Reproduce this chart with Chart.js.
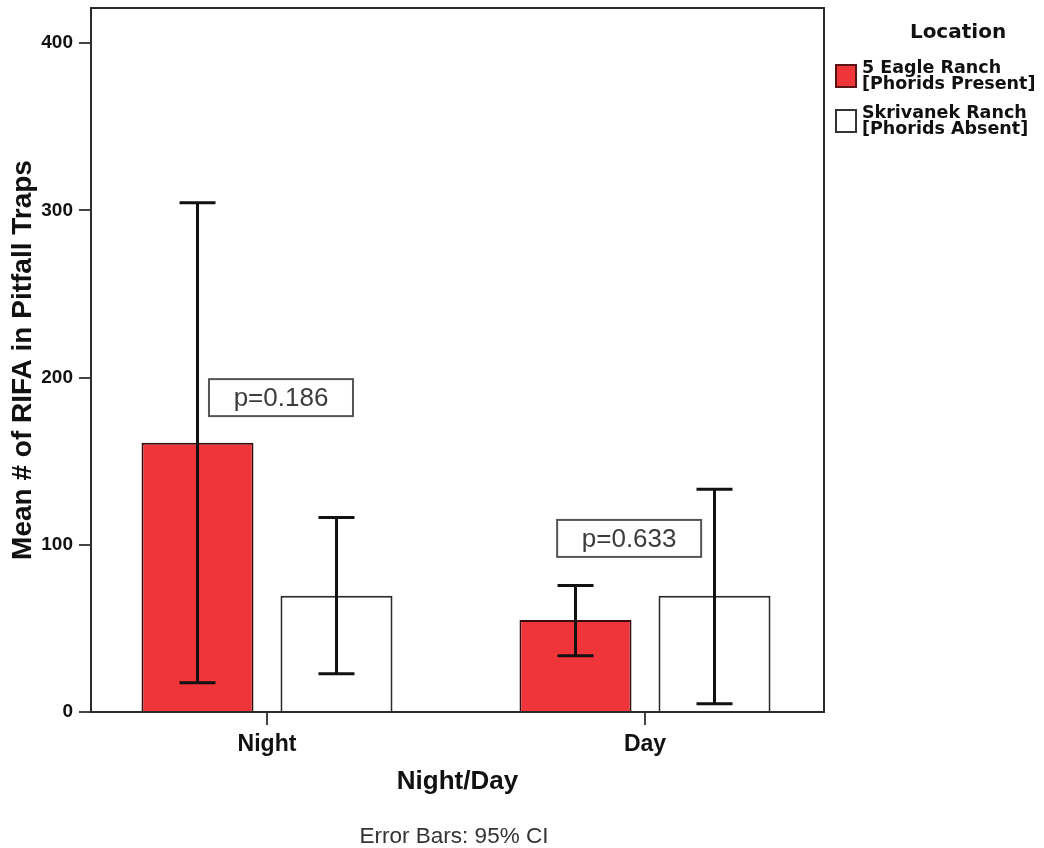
<!DOCTYPE html>
<html>
<head>
<meta charset="utf-8">
<script src="https://cdn.jsdelivr.net/npm/chart.js@4.4.0/dist/chart.umd.min.js"></script>
<style>
  html, body { margin: 0; padding: 0; background: #ffffff; }
  #wrap { width: 1044px; height: 848px; }
</style>
</head>
<body>
<div id="wrap"><canvas id="c" width="1044" height="848"></canvas></div>
<script>
// ---- data ----
const categories = ['Night', 'Day'];
const seriesNames = [['5 Eagle Ranch', '[Phorids Present]'], ['Skrivanek Ranch', '[Phorids Absent]']];
const eagleMean = [161, 55];
const eagleLow = [17.5, 33.7];
const eagleHigh = [304.5, 75.7];
const skrivMean = [69.5, 69.5];
const skrivLow = [22.8, 4.9];
const skrivHigh = [116.3, 133.2];
const yTicks = [0, 100, 200, 300, 400];
const pLabels = ['p=0.186', 'p=0.633'];
const pX = [0.037, 0.958];
const pY = [188, 103.8];

const lows = [eagleLow, skrivLow];
const highs = [eagleHigh, skrivHigh];

const frameColor = '#2b2b2b';

const errorBarPlugin = {
  id: 'errbars',
  afterDatasetsDraw(chart) {
    const ctx = chart.ctx, y = chart.scales.y;
    ctx.save();
    ctx.strokeStyle = '#111';
    ctx.lineWidth = 3;
    chart.data.datasets.forEach((ds, i) => {
      const meta = chart.getDatasetMeta(i);
      meta.data.forEach((bar, j) => {
        const x = bar.x;
        const yl = y.getPixelForValue(lows[i][j]);
        const yh = y.getPixelForValue(highs[i][j]);
        ctx.beginPath();
        ctx.moveTo(x, yl); ctx.lineTo(x, yh);
        ctx.moveTo(x - 18, yl); ctx.lineTo(x + 18, yl);
        ctx.moveTo(x - 18, yh); ctx.lineTo(x + 18, yh);
        ctx.stroke();
      });
    });
    // p-value boxes
    const xs = chart.scales.x;
    pLabels.forEach((t, k) => {
      const cx = xs.getPixelForValue(pX[k]);
      const cy = y.getPixelForValue(pY[k]);
      const w = 144, h = 37;
      ctx.fillStyle = '#fff';
      ctx.fillRect(cx - w / 2, cy - h / 2, w, h);
      ctx.strokeStyle = '#555';
      ctx.lineWidth = 2;
      ctx.strokeRect(cx - w / 2, cy - h / 2, w, h);
      ctx.fillStyle = '#3c3c3c';
      ctx.font = '26px "Liberation Sans", Arial, sans-serif';
      ctx.textAlign = 'center';
      ctx.textBaseline = 'middle';
      ctx.fillText(t, cx, cy + 1);
    });
    ctx.restore();
  }
};

const framePlugin = {
  id: 'frame',
  beforeDatasetsDraw(chart) {
    const a = chart.chartArea, ctx = chart.ctx;
    ctx.save();
    ctx.strokeStyle = frameColor;
    ctx.lineWidth = 2;
    ctx.strokeRect(a.left, a.top, a.right - a.left, a.bottom - a.top);
    ctx.restore();
  }
};

const legendPlugin = {
  id: 'customLegend',
  afterDraw(chart) {
    const ctx = chart.ctx;
    ctx.save();
    ctx.fillStyle = '#111';
    ctx.textAlign = 'center';
    ctx.textBaseline = 'alphabetic';
    ctx.font = 'bold 20px "DejaVu Sans", sans-serif';
    ctx.fillText('Location', 958, 38);
    const tops = [65, 110];
    chart.data.datasets.forEach((ds, i) => {
      const t = tops[i];
      ctx.fillStyle = ds.backgroundColor;
      ctx.fillRect(836, t, 20, 22);
      ctx.strokeStyle = i === 0 ? '#5a1414' : '#333';
      ctx.lineWidth = 2;
      ctx.strokeRect(836, t, 20, 22);
      ctx.fillStyle = '#111';
      ctx.textAlign = 'left';
      ctx.font = 'bold 17.5px "DejaVu Sans", sans-serif';
      ctx.fillText(seriesNames[i][0], 862, t + 8);
      ctx.fillText(seriesNames[i][1], 862, t + 24);
    });
    // footnote
    ctx.textAlign = 'center';
    ctx.fillStyle = '#333';
    ctx.font = '22.5px "Liberation Sans", Arial, sans-serif';
    ctx.fillText('Error Bars: 95% CI', 454, 843);
    ctx.restore();
  }
};

new Chart(document.getElementById('c'), {
  type: 'bar',
  data: {
    datasets: [
      {
        label: seriesNames[0].join(' '),
        data: eagleMean.map((v, i) => ({ x: i, y: v })),
        backgroundColor: '#EF343A',
        borderColor: '#3a0d0d',
        borderWidth: 2,
        categoryPercentage: 0.7354,
        barPercentage: 0.806
      },
      {
        label: seriesNames[1].join(' '),
        data: skrivMean.map((v, i) => ({ x: i, y: v })),
        backgroundColor: '#ffffff',
        borderColor: '#2b2b2b',
        borderWidth: 2,
        categoryPercentage: 0.7354,
        barPercentage: 0.806
      }
    ]
  },
  options: {
    responsive: false,
    animation: false,
    devicePixelRatio: 1,
    layout: { padding: { left: 0, right: 220, top: 8, bottom: 0 } },
    plugins: { legend: { display: false }, tooltip: { enabled: false }, title: { display: false } },
    scales: {
      x: {
        type: 'linear',
        offset: false,
        min: -0.4656,
        max: 1.4735,
        afterBuildTicks: (s) => { s.ticks = categories.map((c, i) => ({ value: i })); },
        afterFit: (s) => { s.height = 136; s.paddingLeft = 0; s.paddingRight = 0; },
        ticks: {
          callback: (v) => categories[Math.round(v)] ?? '',
          color: '#111',
          font: { family: '"Liberation Sans", Arial, sans-serif', size: 23, weight: 'bold' },
          padding: 6,
          maxRotation: 0,
          autoSkip: false
        },
        grid: { offset: false, drawOnChartArea: false, drawTicks: true, tickLength: 13, color: '#444', lineWidth: 2 },
        border: { display: false },
        title: {
          display: true,
          text: 'Night/Day',
          color: '#111',
          font: { family: '"Liberation Sans", Arial, sans-serif', size: 26, weight: 'bold' },
          padding: { top: 0, bottom: 51 }
        }
      },
      y: {
        min: 0,
        max: 421,
        afterBuildTicks: (s) => { s.ticks = yTicks.map(v => ({ value: v })); },
        afterFit: (s) => { s.width = 91; s.paddingTop = 0; s.paddingBottom = 0; },
        ticks: {
          color: '#111',
          font: { family: '"Liberation Sans", Arial, sans-serif', size: 19, weight: 'bold' },
          padding: 6
        },
        grid: { drawOnChartArea: false, drawTicks: true, tickLength: 12, color: '#444', lineWidth: 2 },
        border: { display: false },
        title: {
          display: true,
          text: 'Mean # of RIFA in Pitfall Traps',
          color: '#111',
          font: { family: '"Liberation Sans", Arial, sans-serif', size: 28, weight: 'bold' },
          padding: { top: 6, bottom: 0 }
        }
      }
    }
  },
  plugins: [framePlugin, errorBarPlugin, legendPlugin]
});
</script>
</body>
</html>
